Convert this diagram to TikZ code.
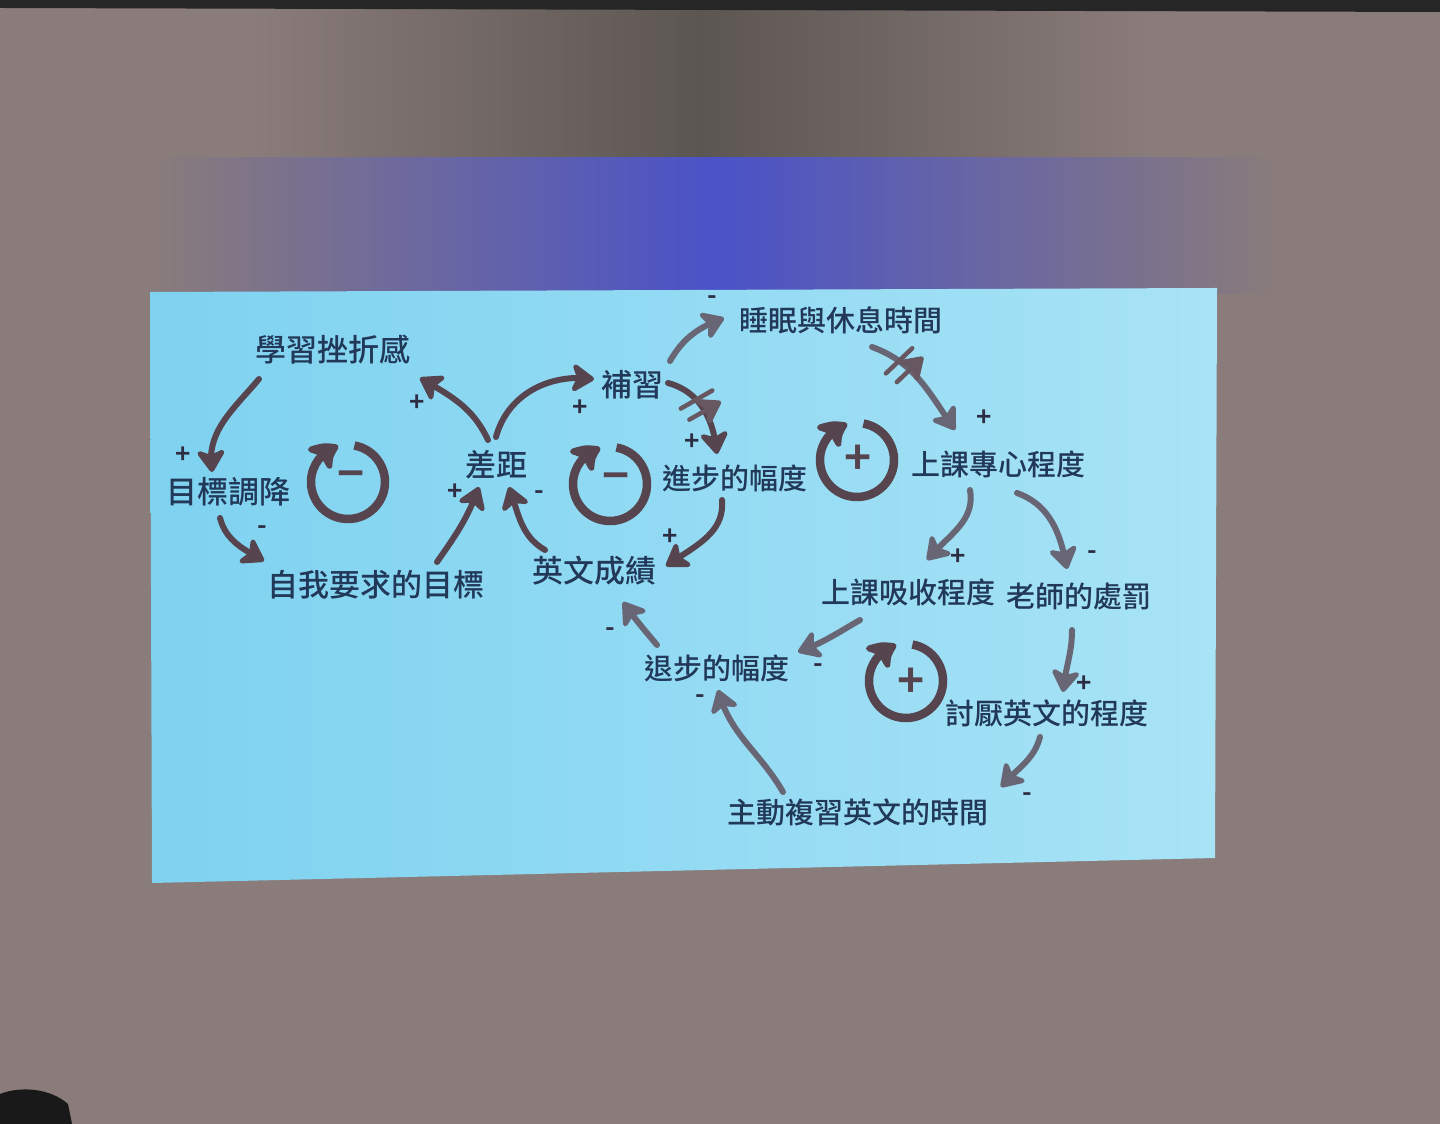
\documentclass[tikz,border=0pt]{standalone}
\usepackage{fontspec}
\setmainfont{Noto Sans CJK TC Medium}
\newfontfamily\signfont{Noto Sans CJK TC Bold}
\usetikzlibrary{arrows.meta,bending,calc,decorations.markings}
\definecolor{wall}{HTML}{8A7C7A}
\definecolor{walldark}{HTML}{5C5652}
\definecolor{glow}{HTML}{4A52C8}
\definecolor{slideL}{HTML}{7ED2F0}
\definecolor{slideR}{HTML}{A8E3F6}
\definecolor{ink}{HTML}{213858}
\definecolor{signc}{HTML}{2D2E44}
\definecolor{arrowc}{HTML}{56444F}
\definecolor{arrowl}{HTML}{686675}
\tikzset{
  lbl/.style={font=\fontsize{29}{29}\selectfont, text=ink, inner sep=0pt},
  lblL/.style={lbl, font=\fontsize{31}{31}\selectfont},
  sgn/.style={font=\signfont\fontsize{26}{26}\selectfont, text=signc, inner sep=0pt},
  loopsign/.style={font=\signfont\fontsize{46}{46}\selectfont, text=arrowc, inner sep=0pt},
  cl/.style={line width=6pt, draw=arrowc, line cap=round,
    -{Stealth[round, length=26pt, width=34pt, inset=7pt]}},
  cll/.style={cl, draw=arrowl},
  loopst/.style={line width=8.5pt, draw=arrowc,
    -{Stealth[round, bend, length=30pt, width=38pt, inset=7pt]}},
  delaymark/.style={postaction={decorate, decoration={markings,
    mark=at position #1 with {\draw[line width=4.5pt, draw=arrowc!90, line cap=round]
      (-8pt,-18pt) -- (-3pt,18pt) (6pt,-18pt) -- (11pt,18pt);}}}}
}
\begin{document}
\begin{tikzpicture}[x=1pt,y=1pt]
\useasboundingbox (0,0) rectangle (1440,1124);
% photo background
\fill[wall] (0,0) rectangle (1440,1124);
\shade[left color=wall, right color=wall, middle color=walldark] (250,960) rectangle (1150,1116);
\shade[left color=wall, right color=wall, middle color=glow] (150,830) rectangle (1280,966);
\fill[black!85] (0,1116) -- (1440,1112) -- (1440,1124) -- (0,1124) -- cycle;
\fill[black!90] (0,0) -- (0,30) .. controls (20,38) and (50,36) .. (68,20) -- (72,0) -- cycle;
% slide
\shade[left color=slideL, right color=slideR] (150,832) -- (1217,836) -- (1215,266) -- (152,241) -- cycle;

% nodes
\node[lblL] (frust) at (333,774) {學習挫折感};
\node[lblL] (gdown) at (228,632) {目標調降};
\node[lblL] (selfgoal) at (376,539) {自我要求的目標};
\node[lblL] (gap) at (496,659) {差距};
\node[lblL] (tutor) at (632,739) {補習};
\node[lbl] (sleep) at (841,804) {睡眠與休息時間};
\node[lbl] (prog) at (735,646) {進步的幅度};
\node[lblL] (score) at (594,553) {英文成績};
\node[lbl] (focus) at (998,660) {上課專心程度};
\node[lbl] (absorb) at (908,532) {上課吸收程度};
\node[lbl] (punish) at (1079,527) {老師的處罰};
\node[lbl] (regress) at (717,456) {退步的幅度};
\node[lbl] (dislike) at (1047,411) {討厭英文的程度};
\node[lbl] (review) at (858,312) {主動複習英文的時間};

% loops
\coordinate (L1) at (348,642);
\coordinate (L2) at (610,640);
\coordinate (L3) at (857,664);
\coordinate (L4) at (906,443);
\foreach \c in {L1,L2,L3,L4}
  \draw[loopst] ([shift={(80:37)}]\c) arc[start angle=80, end angle=-255, radius=37];
\node[loopsign] (s1) at ([shift={(3,1)}]L1) {−};
\node[loopsign] (s2) at ([shift={(6,1)}]L2) {−};
\node[loopsign] (s3) at ([shift={(1,0)}]L3) {+};
\node[loopsign] (s4) at ([shift={(5,-2)}]L4) {+};

% connectors
\draw[cl] ($(frust)+(-74,-29)$) to[out=230,in=100] ($(gdown)+(-16,20)$);
\node[sgn] at (183,669) {+};
\draw[cl] ($(gdown)+(-8,-26)$) to[out=285,in=150] ($(selfgoal)+(-112,24)$);
\node[sgn] at (262,594) {-};
\draw[cl] ($(selfgoal)+(61,23)$) to[out=55,in=250] ($(gap)+(-17,-22)$);
\node[sgn] at (455,632) {+};
\draw[cl] ($(score)+(-49,21)$) to[out=150,in=290] ($(gap)+(13,-22)$);
\node[sgn] at (539,629) {-};
\draw[cl] ($(gap)+(-8,25)$) to[out=115,in=330] ($(frust)+(87,-28)$);
\node[sgn] at (417,721) {+};
\draw[cl] ($(gap)+(0,28)$) to[out=75,in=172] ($(tutor)+(-38,6)$);
\node[sgn] at (580,716) {+};
\draw[cll] ($(tutor)+(38,24)$) to[out=60,in=200] ($(sleep)+(-117,2)$);
\node[sgn] at (712,824) {-};
\draw[cl, delaymark=0.42] ($(tutor)+(36,2)$) to[out=-15,in=95] ($(prog)+(-18,24)$);
\node[sgn] at (692,682) {+};
\draw[cl] ($(prog)+(-13,-22)$) to[out=-85,in=35] ($(score)+(72,5)$);
\node[sgn] at (670,587) {+};
\draw[cll, delaymark=0.3] ($(sleep)+(31,-27)$) to[out=-20,in=125] ($(focus)+(-43,34)$);
\node[sgn] at (984,706) {+};
\draw[cll] ($(focus)+(-28,-26)$) to[out=-80,in=50] ($(absorb)+(19,32)$);
\node[sgn] at (958,567) {+};
\draw[cll] ($(focus)+(19,-29)$) to[out=-20,in=100] ($(punish)+(-12,28)$);
\node[sgn] at (1092,569) {-};
\draw[cll] ($(absorb)+(-48,-28)$) to[out=210,in=20] ($(regress)+(81,16)$);
\node[sgn] at (818,456) {-};
\draw[cll] ($(regress)+(-60,23)$) to[out=130,in=305] ($(score)+(29,-31)$);
\node[sgn] at (610,492) {-};
\draw[cll] ($(punish)+(-7,-33)$) to[out=-90,in=85] ($(dislike)+(16,21)$);
\node[sgn] at (1084,440) {+};
\draw[cll] ($(dislike)+(-7,-24)$) to[out=-105,in=50] ($(review)+(143,25)$);
\node[sgn] at (1027,327) {-};
\draw[cll] ($(review)+(-75,20)$) to[out=120,in=285] ($(regress)+(1,-22)$);
\node[sgn] at (700,425) {-};
\end{tikzpicture}
\end{document}
